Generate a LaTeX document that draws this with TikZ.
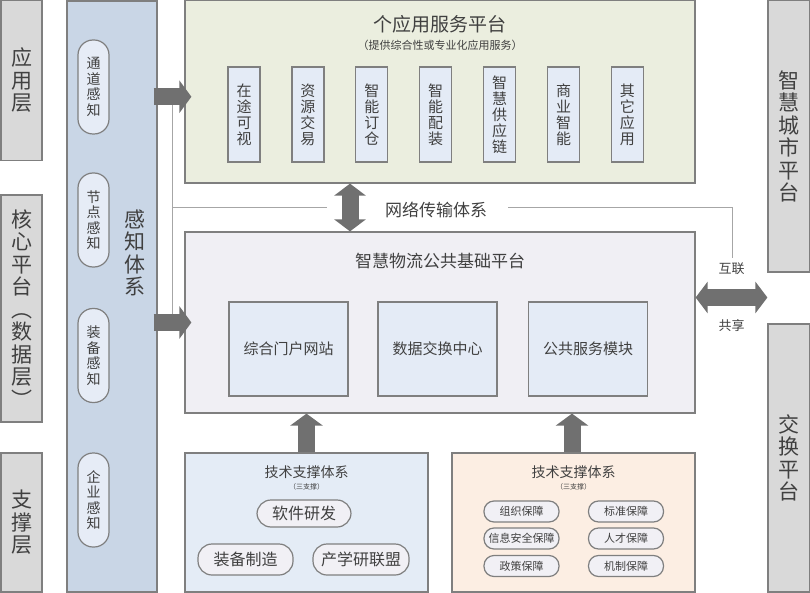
\documentclass[tikz,border=0pt]{standalone}
\usepackage{fontspec}
\setmainfont{Noto Sans CJK SC}
\usepackage{tikz}
\usetikzlibrary{positioning,arrows.meta}
\definecolor{archLine}{HTML}{7F7F7F}
\definecolor{archText}{HTML}{404040}
\definecolor{archLayer}{HTML}{D9D9D9}
\definecolor{archSense}{HTML}{C9D6E6}
\definecolor{archPill}{HTML}{E6ECF6}
\definecolor{archApp}{HTML}{EBEEDF}
\definecolor{archBase}{HTML}{F0EFF4}
\definecolor{archInner}{HTML}{E4EBF6}
\definecolor{archTechL}{HTML}{E4ECF6}
\definecolor{archTechR}{HTML}{FCEEE3}
\definecolor{archPillW}{HTML}{F1F0F5}
\definecolor{archArrow}{HTML}{707070}
\definecolor{archBus}{HTML}{A6A6A6}
\tikzset{
    archBoxBase/.style={
        rectangle,
        draw=archLine,
        line width=1.2pt,
        inner sep=0pt,
        align=center,
        text=archText
    },
    % side layers
    layer/.style={archBoxBase, fill=archLayer, minimum width=41pt, font=\fontsize{21}{22.5}\selectfont},
    senseCol/.style={archBoxBase, fill=archSense, minimum width=90pt, minimum height=591pt},
    sensePill/.style={archBoxBase, fill=archPill, minimum width=31pt, minimum height=94pt, rounded corners=15pt, font=\fontsize{14}{15.5}\selectfont},
    % platforms
    platform/.style={archBoxBase, minimum width=510pt, fill=#1},
    appItem/.style={archBoxBase, fill=archInner, minimum width=32pt, minimum height=95pt, font=\fontsize{15}{16}\selectfont},
    baseItem/.style={archBoxBase, fill=archInner, minimum width=119pt, minimum height=94pt, font=\fontsize{15}{16}\selectfont},
    techBox/.style={archBoxBase, fill=#1, minimum width=243pt, minimum height=139pt},
    techPill/.style={archBoxBase, fill=archPillW, rounded corners=14pt, minimum height=#1, font=\fontsize{16}{18}\selectfont},
    guardPill/.style={archBoxBase, fill=archPillW, rounded corners=10pt, minimum width=75pt, minimum height=21pt, font=\fontsize{11}{12}\selectfont},
    archTitle/.style={text=archText, font=\fontsize{#1}{#1}\selectfont}
}
\begin{document}
\begin{tikzpicture}[
    x=1pt, y=-1pt,
    blockArrow/.style={line width=17pt, draw=archArrow, -{Triangle[length=12pt,width=32pt]}},
    blockBoth/.style={line width=17pt, draw=archArrow, {Triangle[length=12pt,width=31pt]}-{Triangle[length=12pt,width=31pt]}},
    busLine/.style={draw=archBus, line width=1pt}
]
\useasboundingbox (0,0) rectangle (810,593);

% left layers
\node[layer, minimum height=160pt] (appLayer) at (21.5,80.5) {应\\用\\层};
\node[layer, minimum height=227pt] (coreLayer) at (21.5,308.5) {核\\心\\平\\台\\︵\\数\\据\\层\\︶};
\node[layer, minimum height=139pt] (supLayer) at (21.5,522.5) {支\\撑\\层};

% perception column
\node[senseCol] (sense) at (112,296.5) {};
\node[archTitle=21, align=center, font=\fontsize{21}{22.5}\selectfont] (senseLbl) at (135,253) {感\\知\\体\\系};
\node[sensePill] (chanPill) at (93.5,87) {通\\道\\感\\知};
\node[sensePill] (nodePill) at (93.5,220) {节\\点\\感\\知};
\node[sensePill] (equipPill) at (93.5,355.5) {装\\备\\感\\知};
\node[sensePill] (entPill) at (93.5,500) {企\\业\\感\\知};

% right platforms
\node[layer, minimum width=41.5pt, minimum height=271.5pt] (city) at (788.75,136.25) {智\\慧\\城\\市\\平\\台};
\node[layer, minimum width=41.5pt, minimum height=268pt] (exch) at (788.75,458) {交\\换\\平\\台};

% bus lines
\coordinate (busTop) at (172,97);
\coordinate (busBot) at (172,325);
\coordinate (busMid) at (172,208);
\coordinate (netGapL) at (327,208);
\coordinate (netGapR) at (508,208);
\coordinate (busEnd) at (732,208);
\coordinate (busDrop) at (732,258);
\draw[busLine] (busTop) -- (busBot);
\draw[busLine] (busMid) -- (netGapL);
\draw[busLine] (netGapR) -- (busEnd) -- (busDrop);

% application platform
\node[platform=archApp, minimum height=182.5pt] (app) at (440,91.75) {};
\node[archTitle=19] (appTitle) at ([yshift=-24pt]app.north) {个应用服务平台};
\node[archTitle=11] (appSub) at ([yshift=-45pt]app.north) {（提供综合性或专业化应用服务）};
\node[appItem] (a1) at (244,114.5) {在\\途\\可\\视};
\node[appItem, right=30.7pt of a1] (a2) {资\\源\\交\\易};
\node[appItem, right=30.7pt of a2] (a3) {智\\能\\订\\仓};
\node[appItem, right=30.7pt of a3] (a4) {智\\能\\配\\装};
\node[appItem, right=30.7pt of a4] (a5) {智\\慧\\供\\应\\链};
\node[appItem, right=30.7pt of a5] (a6) {商\\业\\智\\能};
\node[appItem, right=30.7pt of a6] (a7) {其\\它\\应\\用};

% base platform
\node[platform=archBase, minimum height=181pt] (base) at (440,322.5) {};
\node[archTitle=17] (baseTitle) at ([yshift=-30pt]base.north) {智慧物流公共基础平台};
\node[baseItem] (portal) at (288.5,349) {综合门户网站};
\node[baseItem, right=28.8pt of portal] (dataEx) {数据交换中心};
\node[baseItem, right=30.3pt of dataEx] (pubSvc) {公共服务模块};

% network
\node[archTitle=17] (net) at (436,210) {网络传输体系};

% technical support
\node[techBox=archTechL] (techL) at (306.5,522.5) {};
\node[archTitle=14] (techLTitle) at ([yshift=-20pt]techL.north) {技术支撑体系};
\node[archTitle=7] (techLSub) at ([yshift=-34pt]techL.north) {（三支撑）};
\node[techPill=27pt, minimum width=94pt] (soft) at (304,513.5) {软件研发};
\node[techPill=31pt, minimum width=95pt] (make) at (245.5,559.5) {装备制造};
\node[techPill=31pt, minimum width=96pt] (iur) at (361,559.5) {产学研联盟};

\node[techBox=archTechR] (techR) at (573.5,522.5) {};
\node[archTitle=14] (techRTitle) at ([yshift=-20pt]techR.north) {技术支撑体系};
\node[archTitle=7] (techRSub) at ([yshift=-34pt]techR.north) {（三支撑）};
\node[guardPill] (org) at (521.5,511.5) {组织保障};
\node[guardPill] (std) at (626,511.5) {标准保障};
\node[guardPill] (sec) at (521.5,538.5) {信息安全保障};
\node[guardPill] (talent) at (626,538.5) {人才保障};
\node[guardPill] (policy) at (521.5,566) {政策保障};
\node[guardPill] (mech) at (626,566) {机制保障};

% arrows
\draw[blockArrow] ([xshift=-4pt,yshift=-5pt]sense.east |- app.west) -- ([xshift=7pt,yshift=-5pt]app.west);
\draw[blockArrow] ([xshift=-4pt]sense.east |- base.west) -- ([xshift=7pt]base.west);
\draw[blockBoth] ([xshift=-90pt]app.south) -- ([xshift=-90pt]base.north);
\draw[blockArrow] (techL.north) -- (techL.north |- base.south);
\draw[blockArrow] ([xshift=-1.5pt]techR.north) -- ([xshift=-1.5pt]techR.north |- base.south);
\draw[blockBoth] ([yshift=25pt]base.east) -- ([yshift=25pt]base.east -| exch.west)
    node[midway, above=11pt, archTitle=13] {互联}
    node[midway, below=10pt, archTitle=13] {共享};
\end{tikzpicture}
\end{document}
